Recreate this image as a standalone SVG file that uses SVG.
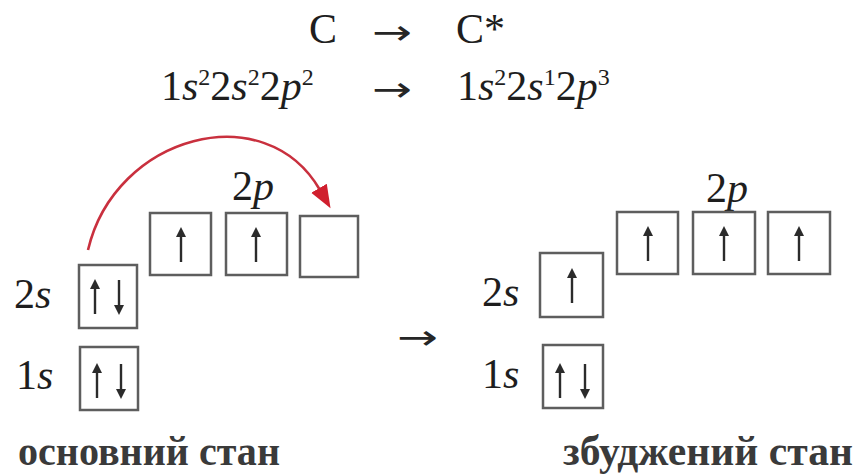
<svg xmlns="http://www.w3.org/2000/svg" width="862" height="476" viewBox="0 0 862 476">
<style>
.t{font-family:'Liberation Serif','DejaVu Serif',serif;fill:#1e1e1e;}
.i{font-style:italic;}
.f{font-size:42px;}
.sup{font-size:24px;}
.lbl{font-size:42px;}
.ar{font-family:'DejaVu Sans','Liberation Sans',sans-serif;fill:#262626;font-size:34px;}
.box{fill:#fff;stroke:#5e5e5e;stroke-width:2.5;}
.cap{font-family:'Liberation Serif','DejaVu Serif',serif;font-weight:bold;font-size:42px;fill:#3a3a3a;}
.e{stroke:#2b2b2b;stroke-width:2.4;fill:none;}
.eh{fill:#2b2b2b;}
</style>
<defs>
<g id="up"><line class="e" x1="0" y1="17" x2="0" y2="-12"/><path class="eh" d="M-5,-8 L0,-18 L5,-8 Z"/></g>
<g id="dn"><line class="e" x1="0" y1="-17" x2="0" y2="12"/><path class="eh" d="M-5,8 L0,18 L5,8 Z"/></g>
<marker id="rh" markerUnits="userSpaceOnUse" markerWidth="24" markerHeight="20" refX="2" refY="9" orient="auto"><path d="M0,0 L23,9 L0,18 Z" fill="#d01f2e"/></marker>
</defs>

<g id="equation">
<text class="t f" x="309" y="43">C</text>
<text class="ar" x="372" y="44" textLength="40" lengthAdjust="spacingAndGlyphs">→</text>
<text class="t f" x="456" y="43">C*</text>
<text class="t f" x="161" y="100">1<tspan class="i">s</tspan><tspan class="sup" dy="-15">2</tspan><tspan dy="15">2</tspan><tspan class="i">s</tspan><tspan class="sup" dy="-15">2</tspan><tspan dy="15">2</tspan><tspan class="i">p</tspan><tspan class="sup" dy="-15">2</tspan></text>
<text class="ar" x="372" y="101" textLength="40" lengthAdjust="spacingAndGlyphs">→</text>
<text class="t f" x="457" y="100">1<tspan class="i">s</tspan><tspan class="sup" dy="-15">2</tspan><tspan dy="15">2</tspan><tspan class="i">s</tspan><tspan class="sup" dy="-15">1</tspan><tspan dy="15">2</tspan><tspan class="i">p</tspan><tspan class="sup" dy="-15">3</tspan></text>
</g>

<g id="ground-state">
<text class="t lbl" x="232" y="200">2<tspan class="i">p</tspan></text>
<text class="t lbl" x="14" y="308">2<tspan class="i">s</tspan></text>
<text class="t lbl" x="16" y="389">1<tspan class="i">s</tspan></text>
<rect class="box" x="150" y="213" width="61" height="62"/>
<rect class="box" x="226" y="213" width="61" height="62"/>
<rect class="box" x="300" y="216" width="58" height="61"/>
<rect class="box" x="79" y="265" width="58" height="63"/>
<rect class="box" x="80" y="347" width="58" height="63"/>
<use href="#up" x="181" y="245"/>
<use href="#up" x="256" y="245"/>
<use href="#up" x="95" y="297"/>
<use href="#dn" x="119" y="297"/>
<use href="#up" x="97" y="381"/>
<use href="#dn" x="121" y="381"/>
<text class="cap" x="18" y="465" textLength="262" lengthAdjust="spacingAndGlyphs">основний стан</text>
</g>

<g id="excited-state">
<text class="t lbl" x="706" y="202">2<tspan class="i">p</tspan></text>
<text class="t lbl" x="482" y="306">2<tspan class="i">s</tspan></text>
<text class="t lbl" x="482" y="388">1<tspan class="i">s</tspan></text>
<rect class="box" x="617" y="212" width="61" height="62"/>
<rect class="box" x="693" y="212" width="62" height="62"/>
<rect class="box" x="768" y="212" width="62" height="62"/>
<rect class="box" x="540" y="253" width="63" height="64"/>
<rect class="box" x="543" y="345" width="60" height="63"/>
<use href="#up" x="648" y="244"/>
<use href="#up" x="724" y="244"/>
<use href="#up" x="799" y="244"/>
<use href="#up" x="572" y="286"/>
<use href="#up" x="560" y="381"/>
<use href="#dn" x="585" y="381"/>
<text class="cap" x="563" y="465" textLength="290" lengthAdjust="spacingAndGlyphs">збуджений стан</text>
</g>

<g id="connectors">
<path d="M88,250 C115,135 265,95 320,190" fill="none" stroke="#c9303e" stroke-width="2.6" marker-end="url(#rh)"/>
<text class="ar" x="397" y="349" textLength="41" lengthAdjust="spacingAndGlyphs">→</text>
</g>
</svg>
